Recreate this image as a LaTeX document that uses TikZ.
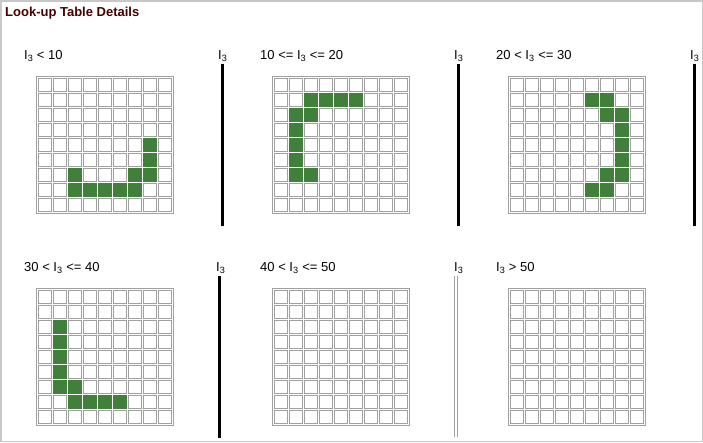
\documentclass[tikz,border=0pt]{standalone}
\usepackage{fontspec}
\setmainfont{Liberation Sans}
\definecolor{gridgrey}{RGB}{160,160,160}
\definecolor{cellgreen}{RGB}{65,128,58}
\definecolor{framegrey}{RGB}{200,200,200}
\definecolor{titlered}{RGB}{70,0,0}
\newcommand\Ithree{I\textsubscript{3}}
\newcommand\lutgrid[4]{%
  \begin{scope}[shift={(#2,#3)}]
    \coordinate (#1) at (0,0);
    \draw[gridline] (0.5,0.5) rectangle (137.5,137.5);
    \foreach \c in {0,...,8}{\foreach \r in {0,...,8}{
      \draw[gridline] ({2.5+15.05*\c},{2.5+15.05*\r}) rectangle ++(12.9,12.9);}}
    \foreach \c/\r in {#4}{
      \fill[cellgreen] ({2+15.05*(\c-1)},{2+15.05*(\r-1)}) rectangle ++(13.9,13.9);}
  \end{scope}}
\begin{document}
\begin{tikzpicture}[x=1pt,y=-1pt,
  gridline/.style={draw=gridgrey,line width=1pt},
  lbl/.style={anchor=base west,inner sep=0pt,font=\fontsize{13}{15}\selectfont},
  ttl/.style={anchor=base west,inner sep=0pt,font=\fontsize{13}{15}\selectfont\bfseries,text=titlered},
  bar/.style={line width=3.2pt,black},
  thinbar/.style={line width=1pt,draw=gridgrey}]
\useasboundingbox (0,0) rectangle (703,442);
\draw[framegrey,line width=1.5pt] (0.75,0.75) rectangle (702.25,441.25);
\node[ttl] (title) at (5,16) {Look-up Table Details};
% row 1
\node[lbl] (l1) at (24,59) {\Ithree{} < 10};
\node[lbl] (i1) at (218,59) {\Ithree};
\node[lbl] (l2) at (260,59) {10 <= \Ithree{} <= 20};
\node[lbl] (i2) at (454,59) {\Ithree};
\node[lbl] (l3) at (496,59) {20 < \Ithree{} <= 30};
\node[lbl] (i3) at (690,59) {\Ithree};
% row 2
\node[lbl] (l4) at (24,271) {30 < \Ithree{} <= 40};
\node[lbl] (i4) at (216,271) {\Ithree};
\node[lbl] (l5) at (260,271) {40 < \Ithree{} <= 50};
\node[lbl] (i5) at (454,271) {\Ithree};
\node[lbl] (l6) at (496,271) {\Ithree{} > 50};
% bars
\coordinate (b1t) at (222.5,64); \coordinate (b1b) at (222.5,226);
\coordinate (b2t) at (458.5,64); \coordinate (b2b) at (458.5,226);
\coordinate (b3t) at (694.3,64); \coordinate (b3b) at (694.3,226);
\coordinate (b4t) at (219.7,276); \coordinate (b4b) at (219.7,438);
\coordinate (b5at) at (454.8,276); \coordinate (b5ab) at (454.8,437);
\coordinate (b5bt) at (457.2,276); \coordinate (b5bb) at (457.2,437);
\draw[bar] (b1t) -- (b1b);
\draw[bar] (b2t) -- (b2b);
\draw[bar] (b3t) -- (b3b);
\draw[bar] (b4t) -- (b4b);
\draw[thinbar] (b5at) -- (b5ab);
\draw[thinbar] (b5bt) -- (b5bb);
% grids
\lutgrid{g1}{36}{76}{8/5,8/6,3/7,7/7,8/7,3/8,4/8,5/8,6/8,7/8}
\lutgrid{g2}{272}{76}{3/2,4/2,5/2,6/2,2/3,3/3,2/4,2/5,2/6,2/7,3/7}
\lutgrid{g3}{508}{76}{6/2,7/2,7/3,8/3,8/4,8/5,8/6,7/7,8/7,6/8,7/8}
\lutgrid{g4}{36}{288}{2/3,2/4,2/5,2/6,2/7,3/7,3/8,4/8,5/8,6/8}
\lutgrid{g5}{272}{288}{}
\lutgrid{g6}{508}{288}{}
\end{tikzpicture}
\end{document}
